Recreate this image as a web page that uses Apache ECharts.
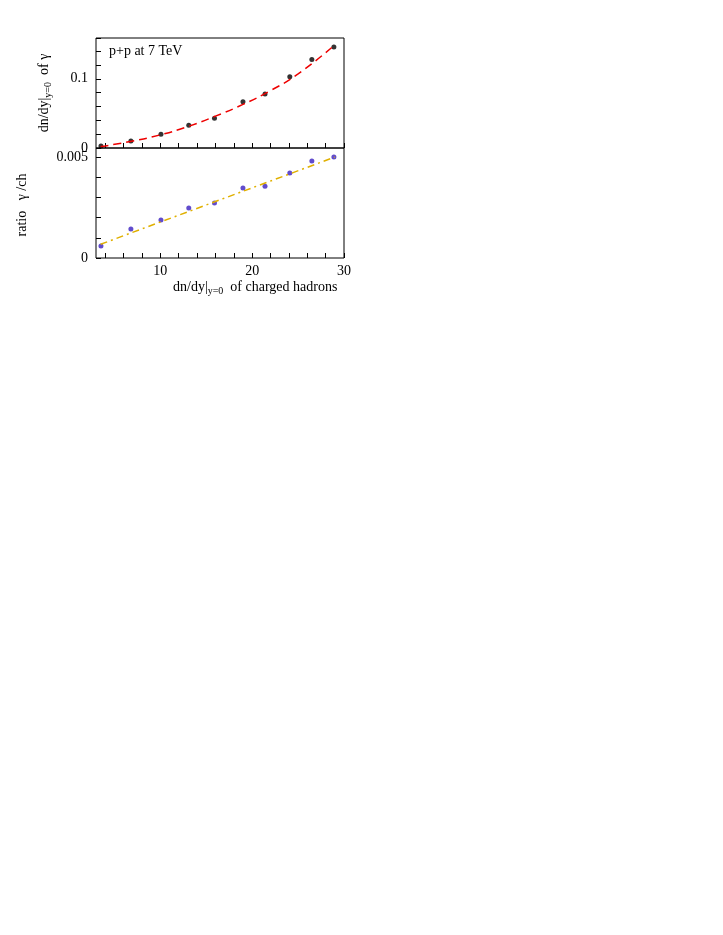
<!DOCTYPE html><html><head><meta charset="utf-8"><script src="https://cdn.jsdelivr.net/npm/echarts@6/dist/echarts.min.js"></script></head><body style="margin:0;background:#fff"><div id="c" style="width:723px;height:935px"></div><script>
const xs=[3.54,6.8,10.07,13.1,15.9,19.0,21.4,24.1,26.5,28.9];
const gammaY=[0.003,0.010,0.020,0.033,0.043,0.067,0.078,0.103,0.128,0.146];
const ratioY=[0.0006,0.00144,0.00188,0.00248,0.00272,0.00347,0.00356,0.00421,0.0048,0.005];
const fitTopX=[3.5,7,10,13,16,19,22,25,29];
const fitTopY=[0.002,0.010,0.019,0.031,0.046,0.063,0.083,0.107,0.149];
const fitBotX=[3.5,29];
const fitBotY=[0.00068,0.005];
const xLabels=[10,20,30];
const F='Liberation Serif';
const z=(a,b)=>a.map((v,i)=>[v,b[i]]);
const xBase={type:'value',min:3,max:30,axisLine:{show:false},splitLine:{show:false},
 axisTick:{inside:true,length:5,customValues:[4,6,8,10,12,14,16,18,20,22,24,26,28,30],lineStyle:{color:'#000'}}};
const ch=echarts.init(document.getElementById('c'));
ch.setOption({animation:false,
grid:[{left:96,top:38,width:248,height:110,show:true,borderColor:'#000',borderWidth:1},
      {left:96,top:148,width:248,height:110,show:true,borderColor:'#000',borderWidth:1}],
xAxis:[Object.assign({gridIndex:0,axisLabel:{show:false}},xBase),
       Object.assign({gridIndex:1,axisLabel:{customValues:xLabels,color:'#000',fontFamily:F,fontSize:14,margin:6}},xBase)],
yAxis:[{gridIndex:0,type:'value',min:0,max:0.159,interval:0.02,axisLine:{show:false},splitLine:{show:false},
  axisTick:{inside:true,length:5,lineStyle:{color:'#000'}},
  axisLabel:{customValues:[0,0.1],color:'#000',fontFamily:F,fontSize:14,margin:8,formatter:v=>v===0?'0':String(v)}},
 {gridIndex:1,type:'value',min:0,max:0.00545,interval:0.001,axisLine:{show:false},splitLine:{show:false},
  axisTick:{inside:true,length:5,lineStyle:{color:'#000'}},
  axisLabel:{customValues:[0,0.005],color:'#000',fontFamily:F,fontSize:14,margin:8,formatter:v=>v===0?'0':'0.005',verticalAlign:'middle'}}],
series:[
 {type:'line',xAxisIndex:0,yAxisIndex:0,data:z(fitTopX,fitTopY),smooth:true,symbol:'none',lineStyle:{color:'#e00',width:1.5,type:[8,5]}},
 {type:'scatter',xAxisIndex:0,yAxisIndex:0,data:z(xs,gammaY),symbolSize:5,itemStyle:{color:'#000'}},
 {type:'line',xAxisIndex:1,yAxisIndex:1,data:z(fitBotX,fitBotY),symbol:'none',lineStyle:{color:'#e0b000',width:1.5,type:[7,4,2,4]}},
 {type:'scatter',xAxisIndex:1,yAxisIndex:1,data:z(xs,ratioY),symbolSize:5,itemStyle:{color:'#3a1fc0'}}],
graphic:[
 {type:'text',left:109,top:44,style:{text:'p+p at 7 TeV',font:'14px '+F,fill:'#000'}},
 {type:'text',x:173,y:278,style:{text:'dn/dy|{s|y=0}  of charged hadrons',font:'14px '+F,fill:'#000',rich:{s:{fontSize:10,fontFamily:F,padding:[8,0,0,0]}}}},
 {type:'text',x:44,y:93,rotation:Math.PI/2,style:{text:'dn/dy|{s|y=0}  of γ',font:'14px '+F,fill:'#000',align:'center',verticalAlign:'middle',rich:{s:{fontSize:10,fontFamily:F,padding:[8,0,0,0]}}}},
 {type:'text',x:22,y:205,rotation:Math.PI/2,style:{text:'ratio   γ /ch',font:'14px '+F,fill:'#000',align:'center',verticalAlign:'middle'}}
]});
</script></body></html>
